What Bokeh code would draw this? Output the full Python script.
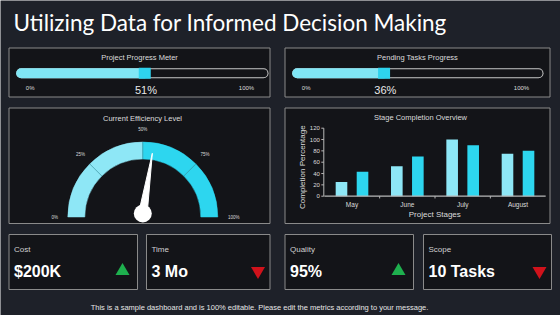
import math
from bokeh.plotting import figure
from bokeh.models import Range1d, ColumnDataSource
from bokeh.core.properties import value
from bokeh.embed import file_html
from bokeh.resources import INLINE

# ---------------- data ----------------
title_text = "Utilizing Data for Informed Decision Making"
footer_text = "This is a sample dashboard and is 100% editable. Please edit the metrics according to your message."

progress_titles = ["Project Progress Meter", "Pending Tasks Progress"]
progress_values = [51, 36]

gauge_title = "Current Efficiency Level"
gauge_bands = [0, 25, 50, 75, 100]
gauge_value = 55

bar_title = "Stage Completion Overview"
stages = ["May", "June", "July", "August"]
series_a = [25, 53, 100, 75]
series_b = [43, 70, 90, 80]
y_ticks = [0, 20, 40, 60, 80, 100, 120]
x_axis_label = "Project Stages"
y_axis_label = "Completion Percentage"

kpi_labels = ["Cost", "Time", "Quality", "Scope"]
kpi_values = ["$200K", "3 Mo", "95%", "10 Tasks"]
kpi_trend = ["up", "down", "up", "down"]

# ---------------- style ----------------
W, H = 560, 315
BG = "#1E2129"
PANEL = "#131418"
BORDER = "#8a8a8a"
LIGHT = "#8EE7F6"
DARK = "#2DD6EF"
TXT = "#dcdcdc"
FONT = "Liberation Sans"

p = figure(width=W, height=H, x_range=Range1d(0, W), y_range=Range1d(H, 0),
           output_backend="svg", toolbar_location=None, min_border=0)
p.axis.visible = False
p.grid.visible = False
p.outline_line_color = None
p.background_fill_color = BG
p.border_fill_color = BG


def xr(v0, v1, p0, p1):
    s = (v1 - v0) / (p1 - p0)
    return Range1d(start=v0 + (0 - p0) * s, end=v0 + (W - p0) * s)


def yr(v0, v1, p0, p1):
    s = (v1 - v0) / (p1 - p0)
    return Range1d(start=v0 + (H - p0) * s, end=v0 + (0 - p0) * s)


def txt(x, y, s, size, color=TXT, font=FONT, align="center", baseline="middle",
        style="normal", angle=0, **kw):
    p.text(x=[x], y=[y], text=[s], text_font=value(font), text_font_size=size,
           text_color=color, text_align=align, text_baseline=baseline,
           text_font_style=style, angle=angle, **kw)


def panel(l, r, t, b):
    p.quad(left=[l], right=[r], top=[t], bottom=[b], fill_color=PANEL,
           line_color=BORDER, line_width=1)


# title
txt(13, 22, title_text, "22.5px", color="#ffffff", font="Lato", align="left")

# ---------------- progress meters ----------------
meter_boxes = [(8.5, 269.5, 47.5, 96.5), (284.5, 549.5, 47.5, 96.5)]
meter_tracks = [(20.7, 263.0), (296.7, 538.0)]
for i, (ttl, val) in enumerate(zip(progress_titles, progress_values)):
    l, r, t, b = meter_boxes[i]
    panel(l, r, t, b)
    x0, x1 = meter_tracks[i]
    name = f"m{i}"
    p.extra_x_ranges[name] = xr(0, 100, x0, x1)
    cy = 72.7
    txt((l + r) / 2, 56.5, ttl, "7.5px")
    p.segment(x0=[0], y0=[cy], x1=[100], y1=[cy], x_range_name=name,
              line_width=10, line_color="#c8c8c8", line_cap="round")
    p.segment(x0=[0], y0=[cy], x1=[100], y1=[cy], x_range_name=name,
              line_width=8, line_color=PANEL, line_cap="round")
    p.segment(x0=[0], y0=[cy], x1=[val], y1=[cy], x_range_name=name,
              line_width=10, line_color="#80E6F5", line_cap="round")
    p.rect(x=[val], y=[cy], width=12, height=11, width_units="screen",
           height_units="screen", x_range_name=name, fill_color="#2ED3EE",
           line_color=None)
    txt(x0 + 9, 87.7, "0%", "6px")
    txt(x1 - 17, 87.7, "100%", "6px")
    p.text(x=[val + 0.5], y=[89.3], text=[f"{val}%"], x_range_name=name,
           text_font=value(FONT), text_font_size="11px", text_color="#e8e8e8",
           text_align="center", text_baseline="middle")

# ---------------- gauge ----------------
panel(8.5, 269.5, 107.5, 223.0)
txt(142, 117.5, gauge_title, "7.5px")
gcx, gcy = 142.3, 216.5
r_in, r_out = 58, 75
for b0, b1 in zip(gauge_bands[:-1], gauge_bands[1:]):
    col = LIGHT if b1 <= 50 else DARK
    p.annular_wedge(x=[gcx], y=[gcy], inner_radius=r_in, outer_radius=r_out,
                    start_angle=math.pi * (1 - b1 / 100),
                    end_angle=math.pi * (1 - b0 / 100),
                    fill_color=col, line_color=col, line_width=0.5)
for b in gauge_bands[1:-1]:
    a = math.pi * (1 - b / 100)
    p.segment(x0=[gcx + r_in * math.cos(a)], y0=[gcy - r_in * math.sin(a)],
              x1=[gcx + r_out * math.cos(a)], y1=[gcy - r_out * math.sin(a)],
              line_color="#3f9aa8", line_width=0.7)
for b in gauge_bands:
    a = math.pi * (1 - b / 100)
    rl = 88
    txt(gcx + rl * math.cos(a) + (3 if b == 100 else 0), gcy - rl * math.sin(a),
        f"{b}%", "4.5px")
# needle
na = math.pi * (1 - gauge_value / 100)
pvx, pvy = gcx, 213.0
nlen, nw = 61, 4.5
tipx, tipy = pvx + nlen * math.cos(na), pvy - nlen * math.sin(na)
px_, py_ = -math.sin(na), -math.cos(na)
p.patch(x=[pvx + nw * px_, tipx, pvx - nw * px_],
        y=[pvy - nw * py_, tipy, pvy + nw * py_], fill_color="white", line_color="white")
p.scatter(x=[pvx], y=[pvy], size=18, marker="circle", fill_color="white", line_color=None)

# ---------------- bar chart ----------------
panel(284.5, 549.5, 107.5, 223.0)
txt(420, 116.5, bar_title, "7.5px")
p.extra_x_ranges["bx"] = xr(0, 3, 351.5, 517.5)
p.extra_y_ranges["by"] = yr(0, 120, 195.7, 127.7)
idx = list(range(len(stages)))
src = ColumnDataSource(dict(xa=[i - 0.19 for i in idx], xb=[i + 0.19 for i in idx],
                            a=series_a, b=series_b))
p.vbar(x="xa", top="a", bottom=0, width=0.21, source=src, x_range_name="bx",
       y_range_name="by", fill_color=LIGHT, line_color=None)
p.vbar(x="xb", top="b", bottom=0, width=0.21, source=src, x_range_name="bx",
       y_range_name="by", fill_color=DARK, line_color=None)
AX = "#b8b8b8"
ax_x = 323.3
p.segment(x0=[ax_x], y0=[0], x1=[ax_x], y1=[y_ticks[-1]], y_range_name="by",
          line_color=AX, line_width=1)
p.segment(x0=[ax_x - 2.5] * len(y_ticks), y0=y_ticks, x1=[ax_x] * len(y_ticks),
          y1=y_ticks, y_range_name="by", line_color=AX, line_width=1)
p.text(x=[ax_x - 4] * len(y_ticks), y=y_ticks, text=[str(t) for t in y_ticks],
       y_range_name="by", text_font=value(FONT), text_font_size="6px",
       text_color=TXT, text_align="right", text_baseline="middle")
p.segment(x0=[-0.5], y0=[0], x1=[len(stages) - 0.5], y1=[0], x_range_name="bx",
          y_range_name="by", line_color=AX, line_width=1.2)
bounds = [i + 0.5 for i in idx[:-1]]
p.segment(x0=bounds, y0=[0] * len(bounds), x1=bounds, y1=[-4] * len(bounds),
          x_range_name="bx", y_range_name="by", line_color=AX, line_width=1)
p.text(x=idx, y=[203.7] * len(idx), text=stages, x_range_name="bx",
       text_font=value(FONT), text_font_size="6.5px", text_color=TXT,
       text_align="center", text_baseline="middle")
txt(434.3, 213.7, x_axis_label, "8px")
txt(302.3, 166.7, y_axis_label, "8px", angle=math.pi / 2)

# ---------------- KPI cards ----------------
kpi_boxes = [(8.5, 137, 234, 289), (146, 269.5, 234, 289),
             (284.5, 413, 234, 289), (423, 551, 234, 289)]
for (l, r, t, b), lab, val, tr in zip(kpi_boxes, kpi_labels, kpi_values, kpi_trend):
    panel(l, r, t, b)
    txt(l + 5, 248.7, lab, "8px", align="left", color="#d0d0d0")
    txt(l + 5, 270.5, val, "16px", align="left", color="#ffffff", style="bold")
    if tr == "up":
        p.scatter(x=[r - 15], y=[270.5], marker="triangle", size=14,
                  fill_color="#1EB04E", line_color=None)
    else:
        p.scatter(x=[r - 12], y=[270.5], marker="inverted_triangle", size=14,
                  fill_color="#D0121B", line_color=None)

# footer
txt(259, 307.3, footer_text, "7.5px", color="#e6e6e6")

open("out.html", "w").write(file_html(p, INLINE))
